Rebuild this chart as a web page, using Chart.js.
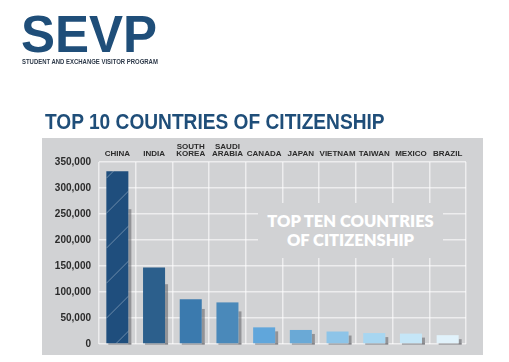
<!DOCTYPE html>
<html>
<head>
<meta charset="utf-8">
<script src="https://cdn.jsdelivr.net/npm/chart.js@4"></script>
<style>
  html, body { margin: 0; padding: 0; background: #fff; }
  #wrap { position: relative; width: 509px; height: 362px; overflow: hidden; }
  #chart { position: absolute; left: 0; top: 0; }
  .logo { position: absolute; left: 21px; top: 5px; font: bold 51px "Liberation Sans", Arial, sans-serif; color: #1f4e79; }
  .program { position: absolute; left: 22px; top: 58px; font: bold 7px "Liberation Sans", Arial, sans-serif; color: #2e3a4a; white-space: nowrap;
             transform: scaleX(0.85); transform-origin: 0 0; }
  .title { position: absolute; left: 45px; top: 109px; font: bold 22px "Liberation Sans", Arial, sans-serif; color: #1f4e79; white-space: nowrap;
           transform: scaleX(0.87); transform-origin: 0 0; }
  .overlay { position: absolute; left: 258px; top: 203px; width: 185px; height: 55px; background: #d1d2d4; color: #fff;
             font: 800 16.5px Lato, "Open Sans", sans-serif; text-align: center; line-height: 19px; padding-top: 9px; box-sizing: border-box; }
</style>
</head>
<body>
<div id="wrap">
  <canvas id="chart" width="509" height="362"></canvas>
  <div class="logo">SEVP</div>
  <div class="program">STUDENT AND EXCHANGE VISITOR PROGRAM</div>
  <div class="title">TOP 10 COUNTRIES OF CITIZENSHIP</div>
  <div class="overlay">TOP TEN COUNTRIES<br>OF CITIZENSHIP</div>
</div>
<script>
// Dados do gráfico
const countries = ['CHINA', 'INDIA', ['SOUTH', 'KOREA'], ['SAUDI', 'ARABIA'], 'CANADA', 'JAPAN', 'VIETNAM', 'TAIWAN', 'MEXICO', 'BRAZIL'];
const students = [332000, 147000, 86000, 80000, 32000, 27000, 24000, 21000, 20000, 17000];
const barColors = ['#1f4e7d', '#2c5f8c', '#3b7aae', '#4a89ba', '#60a6db', '#6aa9d6', '#8dc4e8', '#a7d6f1', '#c5e6f7', '#e1f2fb'];
const yTicks = [0, 50000, 100000, 150000, 200000, 250000, 300000, 350000];

// Fundo cinza do painel
const panelBg = {
    id: 'panelBg',
    beforeDraw(chart) {
        const ctx = chart.ctx;
        ctx.save();
        ctx.fillStyle = '#d1d2d4';
        ctx.fillRect(42, 138, 441, 217);
        ctx.restore();
    }
};

// Sombra atrás das barras
const barShadow = {
    id: 'barShadow',
    beforeDatasetsDraw(chart) {
        const ctx = chart.ctx;
        ctx.save();
        ctx.fillStyle = 'rgba(95, 95, 100, 0.55)';
        chart.getDatasetMeta(0).data.forEach(bar => {
            const h = bar.base - bar.y;
            const top = bar.y + Math.max(4, h * 0.22);
            ctx.fillRect(bar.x + bar.width / 2, top, 3, bar.base - top + 1);
            ctx.fillRect(bar.x - bar.width / 2 + 2, bar.base, bar.width + 1, 1.5);
        });
        ctx.restore();
    }
};

// Linhas diagonais na barra da China
const hatch = {
    id: 'hatch',
    afterDatasetsDraw(chart) {
        const ctx = chart.ctx;
        const bar = chart.getDatasetMeta(0).data[0];
        const left = bar.x - bar.width / 2, right = bar.x + bar.width / 2;
        ctx.save();
        ctx.beginPath();
        ctx.rect(left, bar.y, bar.width, bar.base - bar.y);
        ctx.clip();
        ctx.strokeStyle = 'rgba(255, 255, 255, 0.35)';
        ctx.lineWidth = 1;
        for (let y = bar.base + 10; y > bar.y - 40; y -= 35) {
            ctx.beginPath();
            ctx.moveTo(left, y);
            ctx.lineTo(right + 10, y - (bar.width + 10));
            ctx.stroke();
        }
        ctx.restore();
    }
};

const ctx = document.getElementById('chart').getContext('2d');
const chart = new Chart(ctx, {
    type: 'bar',
    data: {
        labels: countries,
        datasets: [{
            data: students,
            backgroundColor: barColors,
            borderWidth: 0,
            barPercentage: 0.6,
            categoryPercentage: 1
        }]
    },
    options: {
        responsive: false,
        animation: false,
        layout: { padding: { left: 0, right: 43, top: 141, bottom: 18 } },
        plugins: { legend: { display: false }, tooltip: { enabled: false } },
        scales: {
            x: {
                position: 'top',
                grid: { offset: true, color: 'rgba(255,255,255,0.6)', lineWidth: 1.5, drawTicks: false },
                border: { display: false },
                ticks: {
                    color: '#2b2b2b', padding: 4,
                    font: { family: 'Liberation Sans Narrow, Liberation Sans, sans-serif', weight: 'bold', size: 8, lineHeight: 0.95 },
                    maxRotation: 0, autoSkip: false
                },
                afterFit(scale) { scale.height = 21; }
            },
            y: {
                min: 0, max: 350000,
                afterBuildTicks(scale) { scale.ticks = yTicks.map(v => ({ value: v })); },
                grid: { color: 'rgba(255,255,255,0.6)', lineWidth: 1.5, drawTicks: false },
                border: { display: false },
                ticks: {
                    color: '#2b2b2b', padding: 8,
                    font: { family: 'Liberation Sans, Arial, sans-serif', weight: 'bold', size: 10 },
                    callback: v => v.toLocaleString('en-US')
                },
                afterFit(scale) { scale.width = 99; }
            }
        }
    },
    plugins: [panelBg, barShadow, hatch]
});
</script>
</body>
</html>
